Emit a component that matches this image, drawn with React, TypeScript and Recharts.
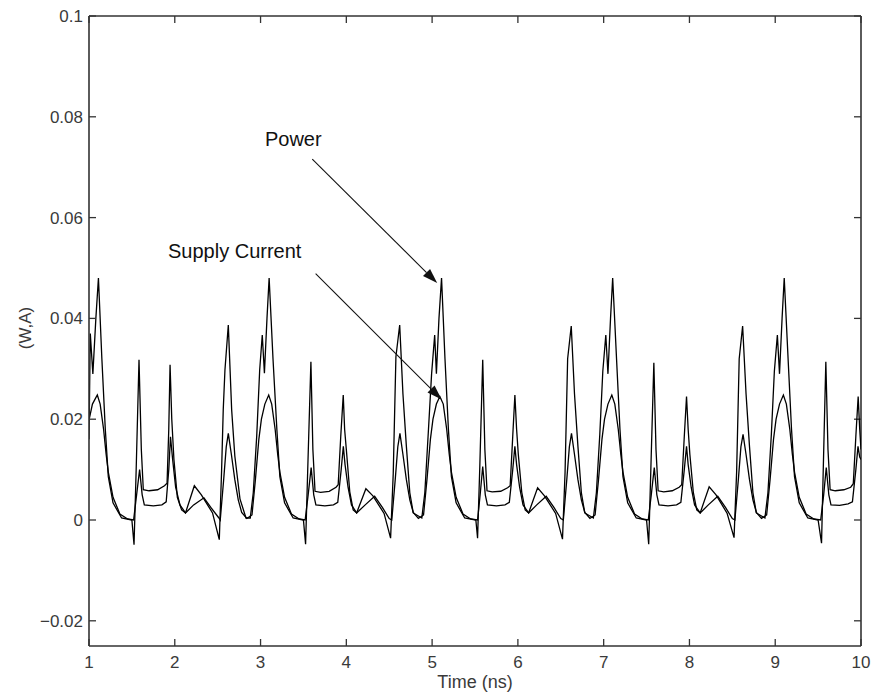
import React from "react";
import {
  LineChart,
  Line,
  XAxis,
  YAxis,
  ReferenceLine,
  ReferenceDot,
} from "recharts";

// time axis (ns) and values
const powerNs = [
  1.0, 1.015, 1.03, 1.045, 1.08, 1.11, 1.15, 1.19, 1.225, 1.28, 1.38, 1.5, 1.525, 1.55, 1.583, 1.61, 1.633, 1.7, 1.8, 1.88, 1.91, 1.93, 1.945, 1.965, 1.99, 2.03, 2.08, 2.125, 2.228, 2.31, 2.44, 2.519, 2.546, 2.565, 2.585, 2.624, 2.663, 2.7, 2.76, 2.83, 2.88,
  2.915, 2.955, 2.99, 3.02, 3.045, 3.075, 3.1, 3.145, 3.19, 3.225, 3.28, 3.38, 3.5, 3.525, 3.55, 3.587, 3.61, 3.635, 3.7, 3.8, 3.88, 3.905, 3.935, 3.964, 3.98, 4.0, 4.04, 4.08, 4.12, 4.228, 4.31, 4.44, 4.516, 4.547, 4.578, 4.622, 4.66, 4.7, 4.74, 4.78, 4.88,
  4.915, 4.955, 4.994, 5.03, 5.05, 5.08, 5.11, 5.15, 5.19, 5.225, 5.28, 5.38, 5.51, 5.53, 5.555, 5.59, 5.615, 5.64, 5.7, 5.8, 5.88, 5.91, 5.94, 5.965, 5.985, 6.005, 6.045, 6.085, 6.125, 6.23, 6.31, 6.44, 6.52, 6.55, 6.58, 6.622, 6.66, 6.7, 6.74, 6.78, 6.88,
  6.915, 6.955, 6.99, 7.025, 7.05, 7.08, 7.105, 7.15, 7.19, 7.225, 7.28, 7.38, 7.5, 7.525, 7.55, 7.585, 7.61, 7.635, 7.7, 7.8, 7.88, 7.91, 7.94, 7.966, 7.985, 8.005, 8.045, 8.085, 8.125, 8.23, 8.31, 8.44, 8.52, 8.55, 8.58, 8.62, 8.66, 8.7, 8.74, 8.78, 8.88,
  8.915, 8.955, 8.99, 9.025, 9.05, 9.08, 9.105, 9.15, 9.19, 9.225, 9.28, 9.38, 9.5, 9.54, 9.56, 9.59, 9.615, 9.64, 9.7, 9.8, 9.88, 9.91, 9.94, 9.967, 9.985, 10.0,
];
const powerW = [
  0.016, 0.037, 0.033, 0.029, 0.04, 0.048, 0.032, 0.018, 0.0086, 0.0034, 0.0004, 0.0, -0.0049, 0.01, 0.0318, 0.014, 0.006, 0.0058, 0.006, 0.0068, 0.0073, 0.018, 0.0308, 0.02, 0.012, 0.0045, 0.002, 0.0014, 0.0068, 0.005, 0.0014, -0.0039, 0.0099, 0.0219, 0.0298, 0.0387, 0.0219, 0.0127, 0.0042, 0.0004, 0.0004,
  0.0054, 0.0166, 0.0298, 0.0367, 0.0291, 0.04, 0.048, 0.032, 0.018, 0.0086, 0.0034, 0.0004, 0.0, -0.0048, 0.01, 0.0314, 0.014, 0.0057, 0.0055, 0.0057, 0.0065, 0.007, 0.0166, 0.0248, 0.018, 0.014, 0.0056, 0.002, 0.0014, 0.0062, 0.0048, 0.0013, -0.0036, 0.0093, 0.0324, 0.0387, 0.025, 0.0146, 0.0054, 0.0014, 0.0004,
  0.0054, 0.0172, 0.029, 0.0367, 0.029, 0.04, 0.048, 0.032, 0.018, 0.0086, 0.0034, 0.0004, 0.0, -0.0036, 0.01, 0.0318, 0.014, 0.0058, 0.0056, 0.0057, 0.0064, 0.0068, 0.0166, 0.0248, 0.018, 0.013, 0.0055, 0.002, 0.0014, 0.0064, 0.0048, 0.0013, -0.0038, 0.0095, 0.032, 0.0385, 0.025, 0.0146, 0.0054, 0.0014, 0.0004,
  0.0054, 0.017, 0.0295, 0.0367, 0.029, 0.04, 0.048, 0.032, 0.018, 0.0086, 0.0034, 0.0004, 0.0, -0.0048, 0.01, 0.0312, 0.014, 0.0058, 0.0056, 0.0058, 0.0065, 0.007, 0.0166, 0.0245, 0.018, 0.013, 0.0055, 0.002, 0.0014, 0.0066, 0.005, 0.0013, -0.0035, 0.0095, 0.032, 0.0385, 0.025, 0.0146, 0.0054, 0.0014, 0.0004,
  0.0054, 0.017, 0.0295, 0.0367, 0.029, 0.04, 0.048, 0.032, 0.018, 0.0086, 0.0034, 0.0004, 0.0, -0.0046, 0.01, 0.0314, 0.014, 0.006, 0.0058, 0.006, 0.0065, 0.0072, 0.0166, 0.0245, 0.018, 0.014,
];

const currentNs = [
  1.0, 1.04, 1.097, 1.13, 1.17, 1.2, 1.225, 1.28, 1.36, 1.45, 1.52, 1.555, 1.59, 1.62, 1.645, 1.75, 1.85, 1.9, 1.93, 1.95, 1.975, 2.01, 2.06, 2.125, 2.22, 2.34, 2.42, 2.51, 2.53, 2.57, 2.6, 2.624, 2.66, 2.7, 2.74, 2.78, 2.84,
  2.9, 2.94, 2.98, 3.01, 3.05, 3.095, 3.13, 3.17, 3.2, 3.225, 3.28, 3.36, 3.45, 3.52, 3.555, 3.59, 3.62, 3.645, 3.75, 3.85, 3.9, 3.94, 3.965, 3.985, 4.02, 4.06, 4.12, 4.22, 4.33, 4.42, 4.5, 4.53, 4.57, 4.6, 4.625, 4.66, 4.7, 4.74, 4.78, 4.84,
  4.9, 4.94, 4.98, 5.01, 5.05, 5.09, 5.13, 5.17, 5.2, 5.225, 5.28, 5.36, 5.45, 5.53, 5.56, 5.59, 5.62, 5.645, 5.75, 5.85, 5.9, 5.94, 5.965, 5.985, 6.02, 6.06, 6.125, 6.22, 6.33, 6.42, 6.5, 6.53, 6.57, 6.6, 6.625, 6.66, 6.7, 6.74, 6.78, 6.84,
  6.9, 6.94, 6.98, 7.01, 7.05, 7.095, 7.13, 7.17, 7.2, 7.225, 7.28, 7.36, 7.45, 7.52, 7.555, 7.59, 7.62, 7.645, 7.75, 7.85, 7.9, 7.94, 7.966, 7.985, 8.02, 8.06, 8.125, 8.22, 8.33, 8.42, 8.5, 8.53, 8.57, 8.6, 8.625, 8.66, 8.7, 8.74, 8.78, 8.84,
  8.9, 8.94, 8.98, 9.01, 9.05, 9.095, 9.13, 9.17, 9.2, 9.225, 9.28, 9.36, 9.45, 9.53, 9.565, 9.595, 9.625, 9.65, 9.75, 9.85, 9.9, 9.94, 9.965, 9.985, 10.0,
];
const currentA = [
  0.0198, 0.023, 0.0248, 0.023, 0.018, 0.013, 0.0095, 0.0045, 0.0012, 0.0002, 0.0, 0.005, 0.01, 0.005, 0.003, 0.0028, 0.003, 0.0036, 0.01, 0.0165, 0.012, 0.0065, 0.003, 0.0014, 0.003, 0.0044, 0.0025, 0.0005, 0.0, 0.008, 0.0145, 0.0172, 0.013, 0.008, 0.004, 0.0015, 0.0003,
  0.001, 0.008, 0.016, 0.02, 0.023, 0.0248, 0.023, 0.018, 0.013, 0.0095, 0.0045, 0.0012, 0.0002, 0.0, 0.005, 0.0104, 0.005, 0.003, 0.0028, 0.003, 0.0035, 0.01, 0.0146, 0.011, 0.0065, 0.003, 0.0014, 0.003, 0.0047, 0.0025, 0.0003, 0.0, 0.008, 0.0145, 0.0172, 0.013, 0.008, 0.004, 0.0015, 0.0003,
  0.001, 0.008, 0.016, 0.02, 0.023, 0.0245, 0.023, 0.018, 0.013, 0.0095, 0.0045, 0.0012, 0.0002, 0.0, 0.005, 0.0106, 0.005, 0.003, 0.0028, 0.003, 0.0035, 0.01, 0.0146, 0.011, 0.0065, 0.003, 0.0014, 0.003, 0.0047, 0.0025, 0.0003, 0.0, 0.008, 0.0145, 0.0172, 0.013, 0.008, 0.004, 0.0015, 0.0003,
  0.001, 0.008, 0.016, 0.02, 0.023, 0.0248, 0.023, 0.018, 0.013, 0.0095, 0.0045, 0.0012, 0.0002, 0.0, 0.005, 0.0104, 0.005, 0.003, 0.0028, 0.003, 0.0035, 0.01, 0.0146, 0.011, 0.0065, 0.003, 0.0014, 0.003, 0.0047, 0.0025, 0.0003, 0.0, 0.008, 0.0145, 0.017, 0.013, 0.008, 0.004, 0.0015, 0.0003,
  0.001, 0.008, 0.016, 0.02, 0.023, 0.0248, 0.023, 0.018, 0.013, 0.0095, 0.0045, 0.0012, 0.0002, 0.0, 0.005, 0.0104, 0.005, 0.003, 0.0029, 0.0032, 0.0036, 0.01, 0.0146, 0.0125, 0.012,
];

const xTicks = [1, 2, 3, 4, 5, 6, 7, 8, 9, 10];
const yTicks = [-0.02, 0, 0.02, 0.04, 0.06, 0.08, 0.1];
const yTickLabels = ["\u22120.02", "0", "0.02", "0.04", "0.06", "0.08", "0.1"];

const X_MIN = 1;
const X_MAX = 10;
const Y_MIN = -0.025;
const Y_MAX = 0.1;

const powerData = powerNs.map((t, i) => ({ t, v: powerW[i] }));
const currentData = currentNs.map((t, i) => ({ t, v: currentA[i] }));

const FONT = "'Liberation Sans', Arial, Helvetica, sans-serif";
const TXT = "#3a3a3a";
const FRAME = "#333";
const TICK = 7;

function BottomTick({ x, y, payload }: any) {
  return (
    <g>
      <line x1={x} y1={y} x2={x} y2={y - TICK} stroke={FRAME} strokeWidth={1.3} />
      <text x={x} y={y + 22} textAnchor="middle" fontSize={17} fontFamily={FONT} fill={TXT}>
        {payload.value}
      </text>
    </g>
  );
}

function LeftTick({ x, y, payload }: any) {
  const idx = yTicks.findIndex((v) => Math.abs(v - payload.value) < 1e-9);
  return (
    <g>
      <line x1={x} y1={y} x2={x + TICK} y2={y} stroke={FRAME} strokeWidth={1.3} />
      <text x={x - 6} y={y} dy="0.35em" textAnchor="end" fontSize={17} fontFamily={FONT} fill={TXT}>
        {yTickLabels[idx]}
      </text>
    </g>
  );
}

// top edge ticks: short line pointing down from the frame
function TopTickShape(props: any) {
  const { x1, y1 } = props;
  return <line x1={x1} y1={y1} x2={x1} y2={y1 + TICK} stroke={FRAME} strokeWidth={1.3} />;
}

// right edge ticks: short line pointing left from the frame
function RightTickShape(props: any) {
  const { x2, y1 } = props;
  return <line x1={x2} y1={y1} x2={x2 - TICK} y2={y1} stroke={FRAME} strokeWidth={1.3} />;
}

function Arrow(props: any) {
  const { x1, y1, x2, y2 } = props;
  const ang = Math.atan2(y2 - y1, x2 - x1);
  const len = 15;
  const half = 5;
  const bx = x2 - len * Math.cos(ang);
  const by = y2 - len * Math.sin(ang);
  const px = -Math.sin(ang) * half;
  const py = Math.cos(ang) * half;
  return (
    <g>
      <line x1={x1} y1={y1} x2={bx} y2={by} stroke="#111" strokeWidth={1.1} />
      <polygon points={`${x2},${y2} ${bx + px},${by + py} ${bx - px},${by - py}`} fill="#111" />
    </g>
  );
}

function NoteText(text: string) {
  return (props: any) => (
    <text x={props.cx} y={props.cy} fontSize={20} fontFamily={FONT} fill="#111">
      {text}
    </text>
  );
}

export default function App() {
  return (
    <div style={{ position: "absolute", left: 0, top: 0, background: "#fff" }}>
      <LineChart
        width={882}
        height={693}
        margin={{ top: 16, right: 21, bottom: 17, left: 29 }}
      >
        <XAxis
          dataKey="t"
          type="number"
          domain={[X_MIN, X_MAX]}
          ticks={xTicks}
          allowDataOverflow
          height={30}
          tickSize={0}
          tickMargin={0}
          tickLine={false}
          axisLine={{ stroke: FRAME, strokeWidth: 1.6 }}
          tick={BottomTick}
          label={{
            content: ({ viewBox }: any) => (
              <text
                x={viewBox.x + viewBox.width / 2}
                y={viewBox.y + 42}
                textAnchor="middle"
                fontSize={18}
                fontFamily={FONT}
                fill={TXT}
              >
                Time (ns)
              </text>
            ),
          }}
        />
        <YAxis
          type="number"
          domain={[Y_MIN, Y_MAX]}
          ticks={yTicks}
          allowDataOverflow
          width={60}
          tickSize={0}
          tickMargin={0}
          tickLine={false}
          axisLine={{ stroke: FRAME, strokeWidth: 1.6 }}
          tick={LeftTick}
          label={{
            content: ({ viewBox }: any) => {
              const cx = viewBox.x - 4;
              const cy = viewBox.y + viewBox.height / 2 - 3;
              return (
                <text
                  x={cx}
                  y={cy}
                  transform={`rotate(-90 ${cx} ${cy})`}
                  textAnchor="middle"
                  dy="0.35em"
                  fontSize={17}
                  fontFamily={FONT}
                  fill={TXT}
                >
                  (W,A)
                </text>
              );
            },
          }}
        />
        {/* box frame: top and right edges with inward ticks */}
        <ReferenceLine y={Y_MAX} stroke={FRAME} strokeWidth={1.6} ifOverflow="visible" />
        <ReferenceLine x={X_MAX} stroke={FRAME} strokeWidth={1.6} ifOverflow="visible" />
        {xTicks.map((t) => (
          <ReferenceLine
            key={`tt${t}`}
            segment={[{ x: t, y: Y_MAX }, { x: t, y: Y_MAX - 0.001 }]}
            ifOverflow="visible"
            shape={TopTickShape}
          />
        ))}
        {yTicks.map((v) => (
          <ReferenceLine
            key={`rt${v}`}
            segment={[{ x: X_MAX - 0.05, y: v }, { x: X_MAX, y: v }]}
            ifOverflow="visible"
            shape={RightTickShape}
          />
        ))}
        <Line
          data={currentData}
          dataKey="v"
          name="Supply Current"
          type="linear"
          stroke="#000"
          strokeWidth={1.3}
          dot={false}
          isAnimationActive={false}
        />
        <Line
          data={powerData}
          dataKey="v"
          name="Power"
          type="linear"
          stroke="#000"
          strokeWidth={1.3}
          dot={false}
          isAnimationActive={false}
        />
        <ReferenceLine
          segment={[{ x: 3.603, y: 0.0716 }, { x: 5.059, y: 0.047 }]}
          shape={Arrow}
        />
        <ReferenceLine
          segment={[{ x: 3.642, y: 0.0489 }, { x: 5.111, y: 0.0239 }]}
          shape={Arrow}
        />
        <ReferenceDot x={3.051} y={0.0743} r={0} shape={NoteText("Power")} />
        <ReferenceDot x={1.921} y={0.0519} r={0} shape={NoteText("Supply Current")} />
      </LineChart>
    </div>
  );
}
